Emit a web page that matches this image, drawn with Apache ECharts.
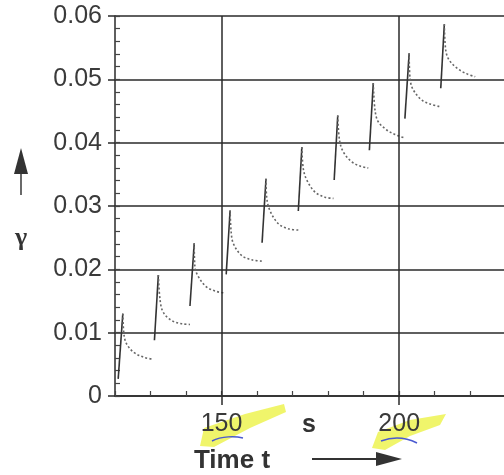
<!DOCTYPE html>
<html><head><meta charset="utf-8">
<script src="https://cdn.jsdelivr.net/npm/echarts@6/dist/echarts.min.js"></script>
<style>html,body{margin:0;padding:0;background:#fff}#c{width:504px;height:475px}</style>
</head><body><div id="c"></div>
<script>
// Time (s) where each loading step starts, and gamma there
const tStart = [120.9, 131.1, 141.1, 151.3, 161.4, 171.6, 181.7, 191.6, 201.6, 211.7];
const gStart = [0.0027, 0.0088, 0.0142, 0.0192, 0.0242, 0.0292, 0.0341, 0.0388, 0.0438, 0.0486];
// Peak of each step
const tPeak = [122.2, 132.2, 142.3, 152.4, 162.5, 172.6, 182.7, 192.7, 202.8, 212.7];
const gPeak = [0.0130, 0.0191, 0.0241, 0.0293, 0.0343, 0.0393, 0.0443, 0.0494, 0.0541, 0.0587];
// Relaxation (dotted) after each peak
const relaxT = [
  [122.6, 123.5, 125.5, 128.2, 130.8],
  [132.7, 133.6, 136.0, 138.8, 141.1],
  [142.5, 143.5, 145.8, 148.6, 150.5],
  [152.7, 153.3, 155.6, 158.5, 161.3],
  [162.7, 163.6, 166.0, 168.8, 171.6],
  [173.0, 174.0, 176.3, 179.1, 181.5],
  [183.2, 184.3, 186.6, 189.0, 191.3],
  [193.2, 194.1, 196.5, 198.8, 201.2],
  [203.1, 204.0, 206.4, 208.7, 211.3],
  [213.1, 214.0, 216.2, 218.5, 221.4]
];
const relaxG = [
  [0.0094, 0.0080, 0.0068, 0.0061, 0.0058],
  [0.0151, 0.0132, 0.0119, 0.0114, 0.0113],
  [0.0204, 0.0188, 0.0172, 0.0165, 0.0163],
  [0.0259, 0.0241, 0.0222, 0.0215, 0.0213],
  [0.0314, 0.0293, 0.0272, 0.0264, 0.0262],
  [0.0359, 0.0341, 0.0322, 0.0314, 0.0312],
  [0.0404, 0.0385, 0.0370, 0.0363, 0.0360],
  [0.0451, 0.0433, 0.0420, 0.0413, 0.0408],
  [0.0499, 0.0483, 0.0467, 0.0461, 0.0457],
  [0.0546, 0.0531, 0.0518, 0.0510, 0.0504]
];
const xLabelTicks = [150, 200];

const chart = echarts.init(document.getElementById('c'), null, {renderer: 'canvas'});
const series = [];
for (let i = 0; i < tStart.length; i++) {
  series.push({
    type: 'line', symbol: 'none', silent: true, animation: false,
    data: [[tStart[i], gStart[i]], [tPeak[i], gPeak[i]]],
    lineStyle: {color: '#333', width: 1.6}
  });
  const rd = [[tPeak[i], gPeak[i]]];
  for (let j = 0; j < relaxT[i].length; j++) rd.push([relaxT[i][j], relaxG[i][j]]);
  series.push({
    type: 'line', symbol: 'none', silent: true, animation: false, smooth: 0.35,
    data: rd,
    lineStyle: {color: '#666', width: 1.6, type: [2, 2.2]}
  });
}
series[0].markLine = {
  symbol: 'none', silent: true, animation: false, label: {show: false},
  lineStyle: {color: '#2a2a2a', type: 'solid', width: 1.5},
  data: xLabelTicks.map(v => ({xAxis: v}))
};

const txt = '#3a3a3a';
chart.setOption({
  animation: false,
  grid: {left: 115, right: 0, top: 16, bottom: 79, containLabel: false},
  xAxis: [{
    type: 'value', min: 120, max: 229.5, interval: 10,
    axisLine: {show: true, lineStyle: {color: '#2a2a2a', width: 1.5}},
    axisTick: {show: true, inside: true, length: 5, lineStyle: {color: '#444', width: 1.2}},
    splitLine: {show: false},
    axisLabel: {
      show: true, margin: 16, color: txt, fontSize: 25, fontFamily: 'Liberation Sans',
      showMaxLabel: false,
      formatter: v => (xLabelTicks.indexOf(v) >= 0 ? String(v) : '')
    }
  }, {
    type: 'value', min: 120, max: 229.5, interval: 10, position: 'bottom', offset: 0,
    axisLine: {show: false},
    axisTick: {show: true, inside: false, length: 9, customValues: xLabelTicks, lineStyle: {color: '#2a2a2a', width: 1.5}},
    axisLabel: {show: false}, splitLine: {show: false}
  }],
  yAxis: [{
    type: 'value', min: 0, max: 0.06, interval: 0.01,
    axisLine: {show: true, lineStyle: {color: '#2a2a2a', width: 1.5}},
    axisTick: {show: true, inside: false, length: 7, lineStyle: {color: '#2a2a2a', width: 1.5}},
    splitLine: {show: true, lineStyle: {color: '#2a2a2a', width: 1.5}},
    axisLabel: {
      margin: 13, color: txt, fontSize: 25, fontFamily: 'Liberation Sans',
      formatter: v => (v === 0 ? '0' : v.toFixed(2))
    }
  }, {
    type: 'value', min: 0, max: 0.06, interval: 0.002, position: 'left', offset: 0,
    axisLine: {show: false},
    axisTick: {show: true, inside: true, length: 5, lineStyle: {color: '#444', width: 1.2}},
    splitLine: {show: false}, axisLabel: {show: false}
  }],
  series: series,
  graphic: [
    // highlighter marks
    {type: 'polygon', silent: true, z: -1, shape: {points: [[200, 446], [204, 428], [245, 414], [284, 404], [286, 412], [250, 428], [214, 447]]}, style: {fill: 'rgba(236,242,70,0.8)'}},
    {type: 'polygon', silent: true, z: -1, shape: {points: [[372, 448], [378, 432], [410, 420], [446, 414], [440, 425], [410, 436], [385, 450]]}, style: {fill: 'rgba(236,242,70,0.8)'}},
    {type: 'bezierCurve', silent: true, shape: {x1: 212, y1: 441, x2: 243, y2: 438, cpx1: 222, cpy1: 436, cpx2: 235, cpy2: 436}, style: {stroke: '#4a5ad0', lineWidth: 1.5, fill: null}},
    {type: 'bezierCurve', silent: true, shape: {x1: 381, y1: 441, x2: 417, y2: 443, cpx1: 392, cpy1: 437, cpx2: 405, cpy2: 437}, style: {stroke: '#4a5ad0', lineWidth: 1.5, fill: null}},
    // unit + axis title
    {type: 'text', silent: true, style: {text: 's', x: 309, y: 425, align: 'center', verticalAlign: 'middle', font: 'bold 25px "Liberation Sans"', fill: '#333'}},
    {type: 'text', silent: true, style: {text: 'Time t', x: 232, y: 461, align: 'center', verticalAlign: 'middle', font: 'bold 26px "Liberation Sans"', fill: '#333'}},
    {type: 'line', silent: true, shape: {x1: 312, y1: 459, x2: 380, y2: 459}, style: {stroke: '#333', lineWidth: 2}},
    {type: 'polygon', silent: true, shape: {points: [[376, 452], [402, 459], [376, 466]]}, style: {fill: '#333'}},
    // y title
    {type: 'text', silent: true, style: {text: 'γ', x: 21, y: 238, align: 'center', verticalAlign: 'middle', font: 'bold 26px "Liberation Serif"', fill: '#333'}},
    {type: 'line', silent: true, shape: {x1: 21, y1: 172, x2: 21, y2: 195}, style: {stroke: '#444', lineWidth: 1.6}},
    {type: 'polygon', silent: true, shape: {points: [[14, 174], [21, 148], [28, 174]]}, style: {fill: '#333'}}
  ]
});
</script></body></html>
